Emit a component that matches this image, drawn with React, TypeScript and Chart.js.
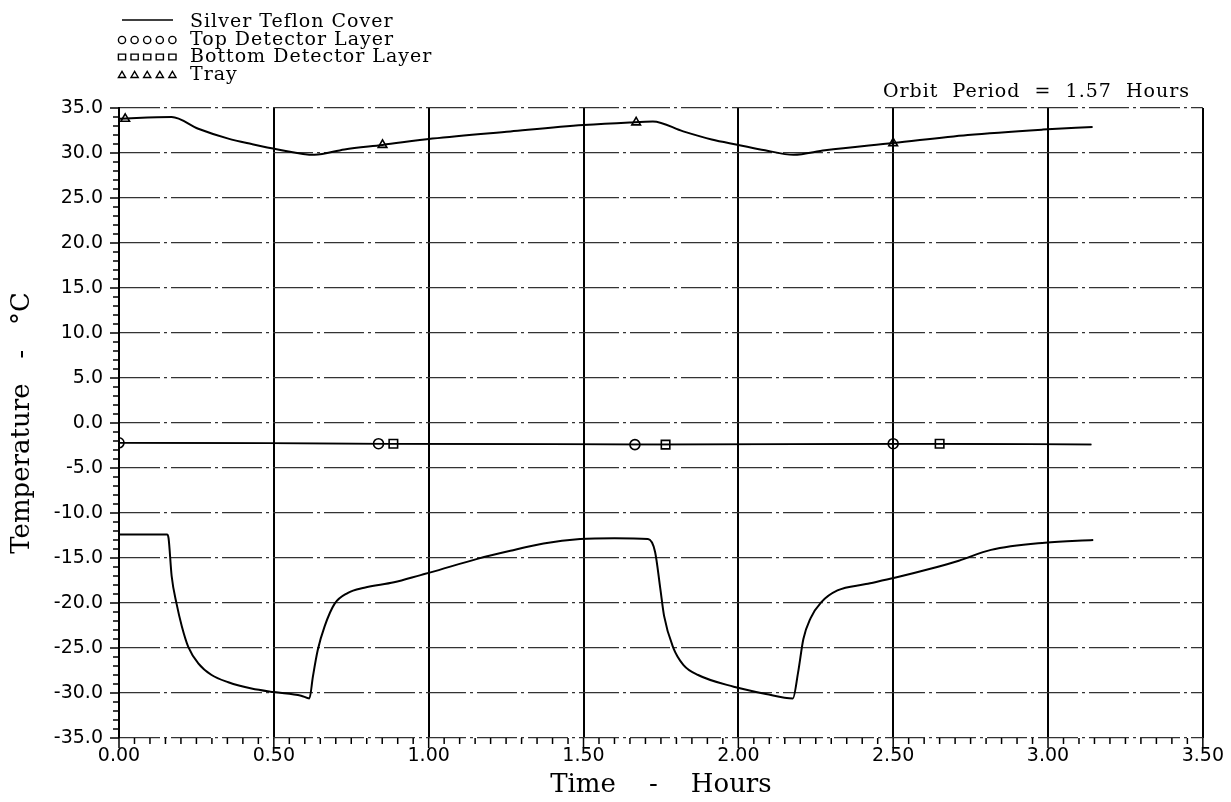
import React, { useEffect, useRef } from 'react';
import { Chart, registerables } from 'chart.js';

Chart.register(...registerables);

// ---- Data ----
const teflonTime = [0.0, 0.08, 0.155, 0.16, 0.17, 0.186, 0.203, 0.224, 0.256, 0.299, 0.353, 0.428, 0.5, 0.588, 0.615, 0.626, 0.642, 0.664, 0.696, 0.738, 0.792, 0.888, 0.974, 1.006, 1.157, 1.264, 1.371, 1.489, 1.6, 1.708, 1.731, 1.748, 1.76, 1.789, 1.823, 1.87, 1.985, 2.089, 2.176, 2.193, 2.21, 2.233, 2.268, 2.32, 2.412, 2.505, 2.62, 2.712, 2.816, 2.99, 3.146];
const teflonTemp = [-12.4, -12.4, -12.4, -12.8, -17.0, -20.1, -22.6, -24.9, -26.7, -28.0, -28.8, -29.5, -29.9, -30.3, -30.6, -28.2, -25.2, -22.6, -20.1, -18.9, -18.3, -17.7, -16.9, -16.6, -15.1, -14.2, -13.4, -12.9, -12.8, -12.9, -14.3, -18.4, -21.4, -24.9, -26.9, -28.0, -29.3, -30.1, -30.6, -27.7, -24.0, -21.7, -19.9, -18.6, -17.9, -17.2, -16.2, -15.3, -14.1, -13.3, -13.0];

const trayTime = [0.0, 0.17, 0.256, 0.353, 0.428, 0.513, 0.631, 0.728, 0.851, 1.012, 1.264, 1.5, 1.649, 1.724, 1.822, 1.914, 2.0, 2.086, 2.178, 2.28, 2.5, 2.741, 2.983, 3.144];
const trayTemp = [33.8, 34.0, 32.7, 31.6, 31.0, 30.4, 29.8, 30.4, 30.9, 31.6, 32.4, 33.1, 33.4, 33.5, 32.4, 31.5, 30.9, 30.3, 29.8, 30.3, 31.1, 32.0, 32.6, 32.9];

const topDetTime = [0.0, 0.838, 1.666, 2.5, 3.14];
const topDetTemp = [-2.2, -2.3, -2.4, -2.3, -2.4];
const botDetTime = [0.0, 0.886, 1.765, 2.65, 3.14];
const botDetTemp = [-2.2, -2.3, -2.4, -2.3, -2.4];

const trayMarkTime = [0.02, 0.851, 1.67, 2.5];
const trayMarkTemp = [33.8, 30.9, 33.4, 31.1];
const topMarkTime = [0.0, 0.838, 1.666, 2.5];
const topMarkTemp = [-2.2, -2.3, -2.4, -2.3];
const botMarkTime = [0.886, 1.765, 2.65];
const botMarkTemp = [-2.3, -2.4, -2.3];

const seriesNames = ['Silver Teflon Cover', 'Top Detector Layer', 'Bottom Detector Layer', 'Tray'];
const orbitNote = 'Orbit  Period  =  1.57  Hours';
const xTitle = 'Time    -    Hours';
const yTitle = 'Temperature   -   °C';

const pts = (xs: number[], ys: number[]) => xs.map((x, i) => ({ x, y: ys[i] }));

function drawMarker(ctx: CanvasRenderingContext2D, style: string, x: number, y: number, r: number) {
  ctx.beginPath();
  if (style === 'circle') {
    ctx.arc(x, y, r, 0, Math.PI * 2);
  } else if (style === 'rect') {
    ctx.rect(x - r, y - r * 0.8, 2 * r, 1.6 * r);
  } else {
    ctx.moveTo(x, y - r);
    ctx.lineTo(x + r, y + r * 0.7);
    ctx.lineTo(x - r, y + r * 0.7);
    ctx.closePath();
  }
  ctx.stroke();
}

const decorPlugin = {
  id: 'decor',
  afterDraw(chart: any) {
    const { ctx, chartArea, scales } = chart;
    const xs = scales.x;
    const ys = scales.y;
    ctx.save();
    ctx.strokeStyle = '#000';
    ctx.lineWidth = 1.5;
    // minor / major ticks on x
    for (let i = 0; i <= 70; i++) {
      const px = xs.getPixelForValue(i * 0.05);
      const len = i % 10 === 0 ? 10 : 6;
      ctx.beginPath();
      ctx.moveTo(px, chartArea.bottom);
      ctx.lineTo(px, chartArea.bottom + len);
      ctx.stroke();
    }
    // minor / major ticks on y
    for (let v = -35; v <= 35; v++) {
      const py = ys.getPixelForValue(v);
      const len = v % 5 === 0 ? 9 : 6;
      ctx.beginPath();
      ctx.moveTo(chartArea.left - len, py);
      ctx.lineTo(chartArea.left, py);
      ctx.stroke();
    }

    // legend
    const rowsY = [22, 40, 57, 75];
    ctx.fillStyle = '#000';
    ctx.font = '19px "DejaVu Serif"';
    if ('letterSpacing' in ctx) (ctx as any).letterSpacing = '1px';
    ctx.textAlign = 'left';
    ctx.textBaseline = 'middle';
    seriesNames.forEach((name, i) => {
      const y = rowsY[i];
      ctx.lineWidth = 1.4;
      if (i === 0) {
        ctx.beginPath();
        ctx.moveTo(122, y - 2);
        ctx.lineTo(173, y - 2);
        ctx.stroke();
      } else {
        const style = i === 1 ? 'circle' : i === 2 ? 'rect' : 'triangle';
        for (let k = 0; k < 5; k++) drawMarker(ctx, style, 122 + k * 12.6, y, 3.6);
      }
      ctx.fillText(name, 190, y);
    });

    // orbit note
    ctx.font = '19px "DejaVu Serif"';
    if ('letterSpacing' in ctx) (ctx as any).letterSpacing = '1px';
    ctx.textAlign = 'right';
    ctx.fillText(orbitNote, 1190, 92);
    ctx.restore();
  },
};

export default function App() {
  const ref = useRef<HTMLCanvasElement>(null);
  useEffect(() => {
    document.body.style.margin = '0';
    const canvas = ref.current;
    if (!canvas) return;
    const lineDs = (label: string, xs: number[], ys: number[], w: number) => ({
      label,
      data: pts(xs, ys),
      showLine: true,
      borderColor: '#000',
      borderWidth: w,
      pointRadius: 0,
      cubicInterpolationMode: 'monotone',
      fill: false,
    });
    const markDs = (label: string, xs: number[], ys: number[], style: string, r: number) => ({
      label,
      data: pts(xs, ys),
      showLine: false,
      pointStyle: style,
      pointRadius: r,
      pointBorderColor: '#000',
      pointBorderWidth: 1.6,
      pointBackgroundColor: 'rgba(0,0,0,0)',
      borderColor: '#000',
      backgroundColor: 'rgba(0,0,0,0)',
    });
    const tickFont = { family: '"DejaVu Sans"', size: 19 };
    const titleFont = { family: '"DejaVu Serif"', size: 26 };
    const chart = new Chart(canvas, {
      type: 'scatter',
      data: {
        datasets: [
          lineDs(seriesNames[0], teflonTime, teflonTemp, 2),
          lineDs(seriesNames[3], trayTime, trayTemp, 2),
          lineDs(seriesNames[1], topDetTime, topDetTemp, 1.5),
          lineDs(seriesNames[2], botDetTime, botDetTemp, 1.5),
          markDs(seriesNames[3] + ' markers', trayMarkTime, trayMarkTemp, 'triangle', 5),
          markDs(seriesNames[1] + ' markers', topMarkTime, topMarkTemp, 'circle', 5),
          markDs(seriesNames[2] + ' markers', botMarkTime, botMarkTemp, 'rect', 6),
        ] as any,
      },
      options: {
        animation: false,
        responsive: false,
        events: [],
        layout: { padding: { top: 108, right: 23, left: 0, bottom: 0 } },
        plugins: { legend: { display: false }, tooltip: { enabled: false } },
        scales: {
          x: {
            type: 'linear',
            min: 0,
            max: 3.5,
            ticks: {
              stepSize: 0.5,
              autoSkip: false,
              maxRotation: 0,
              padding: 7,
              color: '#000',
              font: tickFont,
              callback: (v: any) => Number(v).toFixed(2),
            },
            grid: { color: '#000', lineWidth: 2, drawTicks: false },
            border: { display: false },
            title: { display: true, text: xTitle, color: '#000', font: titleFont, padding: { top: 0, bottom: 1 } },
            afterFit: (s: any) => { s.height = 64; },
          },
          y: {
            min: -35,
            max: 35,
            ticks: {
              stepSize: 5,
              padding: 16,
              color: '#000',
              font: tickFont,
              callback: (v: any) => Number(v).toFixed(1),
            },
            grid: { color: '#333', lineWidth: 1.2, drawTicks: false },
            border: { display: true, color: '#000', width: 2, dash: [40, 4, 3, 4] },
            title: { display: true, text: yTitle, color: '#000', font: titleFont, padding: { top: 7, bottom: 0 } },
            afterFit: (s: any) => { s.width = 119; },
          },
        },
      } as any,
      plugins: [decorPlugin],
    });
    return () => chart.destroy();
  }, []);
  return (
    <div style={{ position: 'fixed', left: 0, top: 0, width: 1231, height: 802, background: '#fff' }}>
      <canvas ref={ref} width={1231} height={802} style={{ width: 1231, height: 802, display: 'block' }} />
    </div>
  );
}
